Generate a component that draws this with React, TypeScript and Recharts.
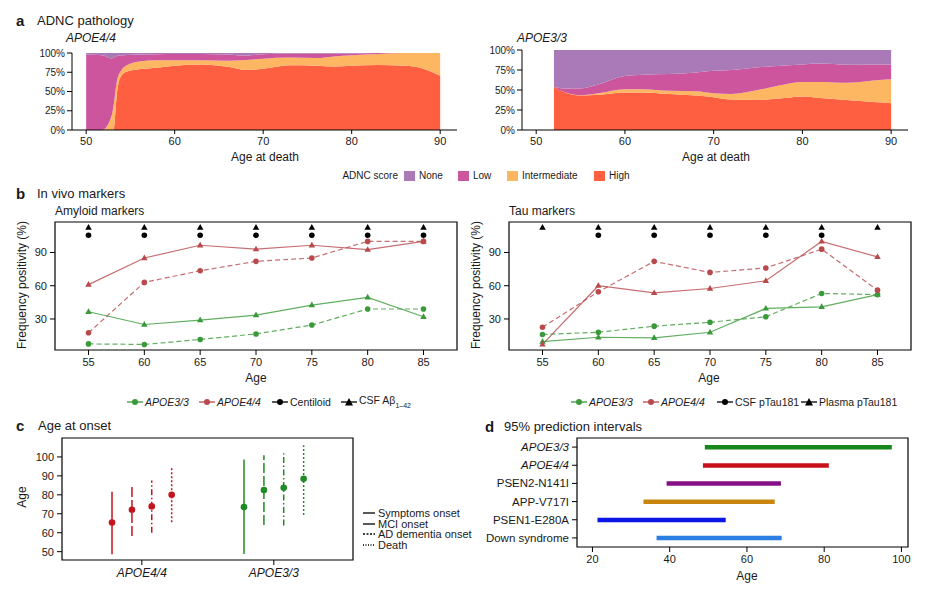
import React from "react";
import {
  AreaChart,
  Area,
  ComposedChart,
  Line,
  Bar,
  Cell,
  XAxis,
  YAxis,
  ReferenceArea,
} from "recharts";

const FONT = "'Liberation Sans', Arial, sans-serif";
const INK = "#1a1a1a";

// ---------- a: ADNC pathology, % of cases per score ----------
const ADNC_COLORS: Record<string, string> = {
  None: "#a97ab7",
  Low: "#cd559e",
  Intermediate: "#fdb661",
  High: "#fd5f40",
};
const ADNC_ORDER = ["High", "Intermediate", "Low", "None"];

const e44Ages = [50, 51.8, 52.9, 53.1, 53.5, 54, 54.6, 56, 58, 60, 63, 66, 68, 70, 73, 76, 78, 80, 83, 86, 88, 90];
const e44High = [0, 0, 0, 0, 50, 71, 76, 79, 81, 83.5, 85, 82, 78, 79.5, 84, 83.5, 82.6, 83.5, 84.3, 83.5, 80, 70.4];
const e44Inter = [0, 0, 19.5, 32, 15, 7, 8, 10, 9.5, 7, 5.5, 8, 13, 13.1, 10, 10, 13, 13.5, 14.4, 16.5, 20, 29.6];
const e44Low = [98, 97, 73.5, 62, 31, 19, 13.5, 9, 8, 8.2, 8.2, 8, 5.5, 5.9, 5, 5.5, 3.4, 2.3, 1.3, 0, 0, 0];
const e44None = [2, 3, 7, 6, 4, 3, 2.5, 2, 1.5, 1.3, 1.3, 2, 3.5, 1.5, 1, 1, 1, 0.7, 0, 0, 0, 0];

const e33Ages = [52, 53, 55, 57, 60, 62, 65, 68, 70, 72, 75, 78, 80, 82, 85, 88, 90];
const e33High = [54, 48, 43, 44, 47, 47, 45, 43, 41, 38, 37.5, 40, 42, 40, 37.5, 35, 33.5];
const e33Inter = [0, 0, 0.5, 2, 4, 4, 4, 5.5, 5, 7, 12.5, 17, 18, 20, 21.5, 27, 30];
const e33Low = [0, 4, 8.5, 11, 16.5, 18, 21, 23.5, 28, 30, 28.5, 23.5, 22, 23, 22.5, 20, 18.5];
const e33None = [46, 48, 48, 43, 32.5, 31, 30, 28, 26, 25, 21.5, 19.5, 18, 17, 18.5, 18, 18];

// ---------- b: in vivo markers, frequency positivity (%) ----------
const markerAges = [55, 60, 65, 70, 75, 80, 85];
const amyE44Csf = [61, 85, 96.5, 93, 96.5, 92.5, 100];
const amyE44Cent = [17.5, 63, 73.5, 82, 85, 100, 100];
const amyE33Csf = [36.5, 25, 29, 33.5, 42.5, 49.5, 32];
const amyE33Cent = [7.5, 7, 11.5, 16.5, 24.5, 39, 39];
const amyCentSig = [1, 1, 1, 1, 1, 1, 1];
const amyCsfSig = [1, 1, 1, 1, 1, 1, 1];

const tauE44Plasma = [7, 60, 53.5, 57.5, 64.5, 100, 86];
const tauE44Csf = [22.5, 54.5, 82, 72, 76, 93, 56];
const tauE33Plasma = [9.5, 13.5, 13, 18, 39.5, 41, 52];
const tauE33Csf = [16, 18, 23.5, 27, 32, 53, 52];
const tauCsfSig = [0, 1, 1, 1, 1, 1, 0];
const tauPlasmaSig = [1, 1, 1, 1, 1, 1, 1];

const SIG_ROW_CIRCLE = 105.6;
const SIG_ROW_TRIANGLE = 112.5;

// ---------- c: age at onset ----------
const onsetTypes = ["Symptoms onset", "MCI onset", "AD dementia onset", "Death"];
const onsetDash = [undefined, "10 3", "6 2.5 1.5 2.5", "2 2"];
const onsetLegendDash = [undefined, undefined, "2 1.5", "1 1.5"];
const onsetGroups = ["APOE4/4", "APOE3/3"];
const onsetE44Mid = [65.4, 72.1, 73.9, 80];
const onsetE44Lo = [48.6, 58.3, 60, 65.5];
const onsetE44Hi = [81.6, 84.1, 87.6, 94.7];
const onsetE33Mid = [73.5, 82.5, 83.7, 88.5];
const onsetE33Lo = [48.8, 64.1, 63.8, 69.4];
const onsetE33Hi = [98.6, 100.9, 101.9, 106.2];

// ---------- d: 95% prediction intervals ----------
const piNames = ["APOE3/3", "APOE4/4", "PSEN2-N141I", "APP-V717I", "PSEN1-E280A", "Down syndrome"];
const piLow = [49.1, 48.6, 39.2, 33.2, 21.3, 36.6];
const piHigh = [97.5, 81.2, 68.8, 67.2, 54.5, 69];
const piColors = ["#17861b", "#c8101b", "#860f86", "#c8860f", "#0b16e6", "#2a7fe0"];

const RED = "#b8494c";
const GREEN = "#3a9a3a";
const C_RED = "#c4151c";
const C_GREEN = "#1f8b24";

function Txt({
  x, y, size = 11, bold, italic, anchor = "start", children,
}: {
  x: number; y: number; size?: number; bold?: boolean; italic?: boolean;
  anchor?: "start" | "middle" | "end"; children: React.ReactNode;
}) {
  const tx = anchor === "middle" ? "-50%" : anchor === "end" ? "-100%" : "0";
  return (
    <div
      style={{
        position: "absolute", left: x, top: y, transform: `translate(${tx}, -50%)`,
        fontSize: size, fontWeight: bold ? 700 : 400, fontStyle: italic ? "italic" : "normal",
        color: INK, whiteSpace: "nowrap", lineHeight: 1,
      }}
    >
      {children}
    </div>
  );
}

function VTxt({ x, y, size = 12, children }: { x: number; y: number; size?: number; children: React.ReactNode }) {
  return (
    <div
      style={{
        position: "absolute", left: x, top: y, transform: "translate(-50%, -50%) rotate(-90deg)",
        fontSize: size, color: INK, whiteSpace: "nowrap", lineHeight: 1,
      }}
    >
      {children}
    </div>
  );
}

const tickStyle = { fill: INK, fontSize: 11, fontFamily: FONT };

function AdncChart({
  ages, high, inter, low, none, left, width, top, yWidth, right,
}: {
  ages: number[]; high: number[]; inter: number[]; low: number[]; none: number[];
  left: number; width: number; top: number; yWidth: number; right: number;
}) {
  const rows = ages.map((age, i) => ({
    age, High: high[i], Intermediate: inter[i], Low: low[i], None: none[i],
  }));
  return (
    <div style={{ position: "absolute", left, top: 0 }}>
      <AreaChart width={width} height={170} data={rows} margin={{ top, right, bottom: 10, left: 0 }}>
        <XAxis
          dataKey="age" type="number" domain={[48.4, 91.9]} allowDataOverflow
          ticks={[50, 60, 70, 80, 90]} tick={tickStyle} tickSize={4} tickMargin={3}
          stroke="#000" height={30}
        />
        <YAxis
          type="number" domain={[0, 100]} ticks={[0, 25, 50, 75, 100]}
          tickFormatter={(v) => `${v}%`} tick={{ ...tickStyle, fontSize: 10 }}
          tickSize={5} tickMargin={2} stroke="#000" width={yWidth}
        />
        {ADNC_ORDER.map((k) => (
          <Area
            key={k} type="monotone" dataKey={k} stackId="s" stroke="none"
            fill={ADNC_COLORS[k]} fillOpacity={1} isAnimationActive={false}
          />
        ))}
      </AreaChart>
    </div>
  );
}

const triDot = (color: string, size = 6.5) => (props: any) => {
  const { cx, cy, index } = props;
  if (cx == null || cy == null) return <g key={`t${index}`} />;
  const h = size * 0.87;
  return (
    <path
      key={`t${index}`}
      d={`M${cx},${cy - h * 0.62} L${cx + size / 2},${cy + h * 0.38} L${cx - size / 2},${cy + h * 0.38} Z`}
      fill={color}
    />
  );
};

const circDot = (color: string, r = 2.8) => (props: any) => {
  const { cx, cy, index } = props;
  if (cx == null || cy == null) return <g key={`c${index}`} />;
  return <circle key={`c${index}`} cx={cx} cy={cy} r={r} fill={color} />;
};

function MarkerChart({
  left, width, yWidth, right, e44Tri, e44Circ, e33Tri, e33Circ, circSig, triSig,
}: {
  left: number; width: number; yWidth: number; right: number;
  e44Tri: number[]; e44Circ: number[]; e33Tri: number[]; e33Circ: number[];
  circSig: number[]; triSig: number[];
}) {
  const rows = markerAges.map((age, i) => ({
    age, e44Tri: e44Tri[i], e44Circ: e44Circ[i], e33Tri: e33Tri[i], e33Circ: e33Circ[i],
  }));
  const circRows = markerAges.filter((_, i) => circSig[i]).map((age) => ({ age, y: SIG_ROW_CIRCLE }));
  const triRows = markerAges.filter((_, i) => triSig[i]).map((age) => ({ age, y: SIG_ROW_TRIANGLE }));
  return (
    <div style={{ position: "absolute", left, top: 210 }}>
      <ComposedChart width={width} height={175} data={rows} margin={{ top: 12, right, bottom: 5, left: 0 }}>
        <XAxis
          dataKey="age" type="number" domain={[52, 88]} allowDataOverflow ticks={markerAges}
          tick={tickStyle} tickSize={5} tickMargin={3} axisLine={false} stroke="#000" height={30}
        />
        <YAxis
          type="number" domain={[2, 117.5]} allowDataOverflow ticks={[30, 60, 90]}
          tick={tickStyle} tickSize={5} tickMargin={3} axisLine={false} stroke="#000" width={yWidth}
        />
        <ReferenceArea x1={52} x2={88} y1={2} y2={117.5} fill="none" stroke="#000" strokeWidth={1.2} />
        <Line dataKey="e33Circ" stroke={GREEN} strokeOpacity={0.8} strokeWidth={1.2} strokeDasharray="5 3"
          dot={circDot(GREEN)} isAnimationActive={false} />
        <Line dataKey="e33Tri" stroke={GREEN} strokeOpacity={0.8} strokeWidth={1.2}
          dot={triDot(GREEN)} isAnimationActive={false} />
        <Line dataKey="e44Circ" stroke={RED} strokeOpacity={0.8} strokeWidth={1.2} strokeDasharray="5 3"
          dot={circDot(RED)} isAnimationActive={false} />
        <Line dataKey="e44Tri" stroke={RED} strokeOpacity={0.8} strokeWidth={1.2}
          dot={triDot(RED)} isAnimationActive={false} />
        <Line data={circRows} dataKey="y" stroke="none" dot={circDot("#000")} isAnimationActive={false} />
        <Line data={triRows} dataKey="y" stroke="none" dot={triDot("#000")} isAnimationActive={false} />
      </ComposedChart>
    </div>
  );
}

const DODGE = [-0.226, -0.075, 0.075, 0.226];

function OnsetChart() {
  const groups = [
    { x: 1, mid: onsetE44Mid, lo: onsetE44Lo, hi: onsetE44Hi, color: C_RED },
    { x: 2, mid: onsetE33Mid, lo: onsetE33Lo, hi: onsetE33Hi, color: C_GREEN },
  ];
  return (
    <div style={{ position: "absolute", left: 0, top: 430 }}>
      <ComposedChart width={470} height={155} margin={{ top: 8, right: 117, bottom: 0, left: 0 }}>
        <XAxis
          dataKey="x" type="number" domain={[0.395, 2.6]} allowDataOverflow ticks={[1, 2]}
          tickFormatter={(v) => onsetGroups[v - 1]} tick={{ ...tickStyle, fontSize: 12, fontStyle: "italic" }}
          tickSize={5} tickMargin={3} axisLine={false} stroke="#000" height={25}
        />
        <YAxis
          type="number" domain={[45.6, 110]} allowDataOverflow ticks={[50, 60, 70, 80, 90, 100]}
          tick={tickStyle} tickSize={5} tickMargin={3} axisLine={false} stroke="#000" width={62}
        />
        <ReferenceArea x1={0.395} x2={2.6} y1={45.6} y2={110} fill="none" stroke="#000" strokeWidth={1.2} />
        {groups.flatMap((g, gi) =>
          onsetTypes.map((t, i) => (
            <Line
              key={`r${gi}-${i}`}
              data={[{ x: g.x + DODGE[i], y: g.lo[i] }, { x: g.x + DODGE[i], y: g.hi[i] }]}
              dataKey="y" stroke={g.color} strokeWidth={1.5} strokeDasharray={onsetDash[i]}
              dot={false} isAnimationActive={false} name={t}
            />
          ))
        )}
        {groups.map((g, gi) => (
          <Line
            key={`p${gi}`}
            data={g.mid.map((m, i) => ({ x: g.x + DODGE[i], y: m }))}
            dataKey="y" stroke="none" dot={circDot(g.color, 3.3)} isAnimationActive={false}
          />
        ))}
      </ComposedChart>
    </div>
  );
}

function PiTick(props: any) {
  const { x, y, payload } = props;
  const italic = String(payload.value).startsWith("APOE");
  return (
    <text x={x} y={y} dy="0.35em" textAnchor="end" fill={INK} fontSize={11.5}
      fontFamily={FONT} fontStyle={italic ? "italic" : "normal"}>
      {payload.value}
    </text>
  );
}

function PiChart() {
  const rows = piNames.map((name, i) => ({ name, range: [piLow[i], piHigh[i]] }));
  return (
    <div style={{ position: "absolute", left: 460, top: 430 }}>
      <ComposedChart layout="vertical" width={471} height={155} data={rows}
        margin={{ top: 8, right: 23, bottom: 8, left: 0 }}>
        <XAxis
          type="number" domain={[16, 101.7]} allowDataOverflow ticks={[20, 40, 60, 80, 100]}
          tick={tickStyle} tickSize={5} tickMargin={3} axisLine={false} stroke="#000" height={30}
        />
        <YAxis
          type="category" dataKey="name" tick={<PiTick />} tickSize={5} tickMargin={3}
          axisLine={false} stroke="#000" width={117} interval={0}
        />
        <ReferenceArea x1={16} x2={101.7} fill="none" stroke="#000" strokeWidth={1.2} />
        <Bar dataKey="range" barSize={4.5} isAnimationActive={false}>
          {rows.map((r, i) => (
            <Cell key={r.name} fill={piColors[i]} />
          ))}
        </Bar>
      </ComposedChart>
    </div>
  );
}

function Swatch({ x, y, color }: { x: number; y: number; color: string }) {
  return <div style={{ position: "absolute", left: x, top: y - 5, width: 11, height: 10, background: color }} />;
}

function LegSym({ x, y, color, kind }: { x: number; y: number; color: string; kind: "line" | "tri" }) {
  return (
    <svg style={{ position: "absolute", left: x, top: y - 5 }} width={16} height={10}>
      <line x1={0} x2={16} y1={5} y2={5} stroke={color} strokeWidth={1.3} />
      {kind === "tri" ? (
        <path d="M8,1 L12,8.5 L4,8.5 Z" fill={color} />
      ) : (
        <circle cx={8} cy={5} r={3} fill={color} />
      )}
    </svg>
  );
}

function DashSample({ x, y, dash }: { x: number; y: number; dash?: string }) {
  return (
    <svg style={{ position: "absolute", left: x, top: y - 3 }} width={12} height={6}>
      <line x1={0} x2={12} y1={3} y2={3} stroke="#000" strokeWidth={1.3} strokeDasharray={dash} />
    </svg>
  );
}

export default function App() {
  return (
    <div
      style={{
        position: "absolute", left: 0, top: 0, width: 931, height: 591,
        background: "#fff", fontFamily: FONT, overflow: "hidden",
      }}
    >
      {/* a */}
      <Txt x={16} y={20} size={15} bold>a</Txt>
      <Txt x={37} y={20} size={13}>ADNC pathology</Txt>
      <Txt x={66} y={38} size={12} italic>APOE4/4</Txt>
      <Txt x={517} y={38} size={12} italic>APOE3/3</Txt>
      <AdncChart ages={e44Ages} high={e44High} inter={e44Inter} low={e44Low} none={e44None}
        left={0} width={470} top={53} yWidth={72} right={13} />
      <AdncChart ages={e33Ages} high={e33High} inter={e33Inter} low={e33Low} none={e33None}
        left={460} width={471} top={50} yWidth={62} right={23} />
      <Txt x={265} y={157} size={12} anchor="middle">Age at death</Txt>
      <Txt x={716} y={157} size={12} anchor="middle">Age at death</Txt>
      <Txt x={398} y={176} size={10} anchor="end">ADNC score</Txt>
      <Swatch x={404} y={176} color={ADNC_COLORS.None} />
      <Txt x={419} y={176} size={10}>None</Txt>
      <Swatch x={458} y={176} color={ADNC_COLORS.Low} />
      <Txt x={473} y={176} size={10}>Low</Txt>
      <Swatch x={507} y={176} color={ADNC_COLORS.Intermediate} />
      <Txt x={522} y={176} size={10}>Intermediate</Txt>
      <Swatch x={594} y={176} color={ADNC_COLORS.High} />
      <Txt x={609} y={176} size={10}>High</Txt>

      {/* b */}
      <Txt x={16} y={193} size={15} bold>b</Txt>
      <Txt x={37} y={193} size={13}>In vivo markers</Txt>
      <Txt x={55} y={211} size={12}>Amyloid markers</Txt>
      <Txt x={509} y={211} size={12}>Tau markers</Txt>
      <MarkerChart left={0} width={470} yWidth={55} right={13}
        e44Tri={amyE44Csf} e44Circ={amyE44Cent} e33Tri={amyE33Csf} e33Circ={amyE33Cent}
        circSig={amyCentSig} triSig={amyCsfSig} />
      <MarkerChart left={460} width={471} yWidth={49} right={20}
        e44Tri={tauE44Plasma} e44Circ={tauE44Csf} e33Tri={tauE33Plasma} e33Circ={tauE33Csf}
        circSig={tauCsfSig} triSig={tauPlasmaSig} />
      <VTxt x={22} y={285}>Frequency positivity (%)</VTxt>
      <VTxt x={476} y={285}>Frequency positivity (%)</VTxt>
      <Txt x={256} y={378} size={12} anchor="middle">Age</Txt>
      <Txt x={709} y={378} size={12} anchor="middle">Age</Txt>

      <LegSym x={127} y={402} color={GREEN} kind="line" />
      <Txt x={145} y={402} size={10.5} italic>APOE3/3</Txt>
      <LegSym x={199} y={402} color={RED} kind="line" />
      <Txt x={217} y={402} size={10.5} italic>APOE4/4</Txt>
      <LegSym x={272} y={402} color="#000" kind="line" />
      <Txt x={290} y={402} size={10.5}>Centiloid</Txt>
      <LegSym x={341} y={402} color="#000" kind="tri" />
      <Txt x={359} y={402} size={10.5}>
        CSF Aβ<sub style={{ fontSize: 7 }}>1–42</sub>
      </Txt>

      <LegSym x={571} y={402} color={GREEN} kind="line" />
      <Txt x={589} y={402} size={10.5} italic>APOE3/3</Txt>
      <LegSym x={643} y={402} color={RED} kind="line" />
      <Txt x={661} y={402} size={10.5} italic>APOE4/4</Txt>
      <LegSym x={717} y={402} color="#000" kind="line" />
      <Txt x={735} y={402} size={10.5}>CSF pTau181</Txt>
      <LegSym x={801} y={402} color="#000" kind="tri" />
      <Txt x={819} y={402} size={10.5}>Plasma pTau181</Txt>

      {/* c */}
      <Txt x={16} y={425} size={15} bold>c</Txt>
      <Txt x={38} y={425} size={13}>Age at onset</Txt>
      <OnsetChart />
      <VTxt x={22} y={497}>Age</VTxt>
      {onsetTypes.map((t, i) => (
        <React.Fragment key={t}>
          <DashSample x={363} y={513 + i * 10.5} dash={onsetLegendDash[i]} />
          <Txt x={378} y={513 + i * 10.5} size={11}>{t}</Txt>
        </React.Fragment>
      ))}

      {/* d */}
      <Txt x={485} y={426} size={15} bold>d</Txt>
      <Txt x={504} y={426} size={13}>95% prediction intervals</Txt>
      <PiChart />
      <Txt x={747} y={576} size={12} anchor="middle">Age</Txt>
    </div>
  );
}
